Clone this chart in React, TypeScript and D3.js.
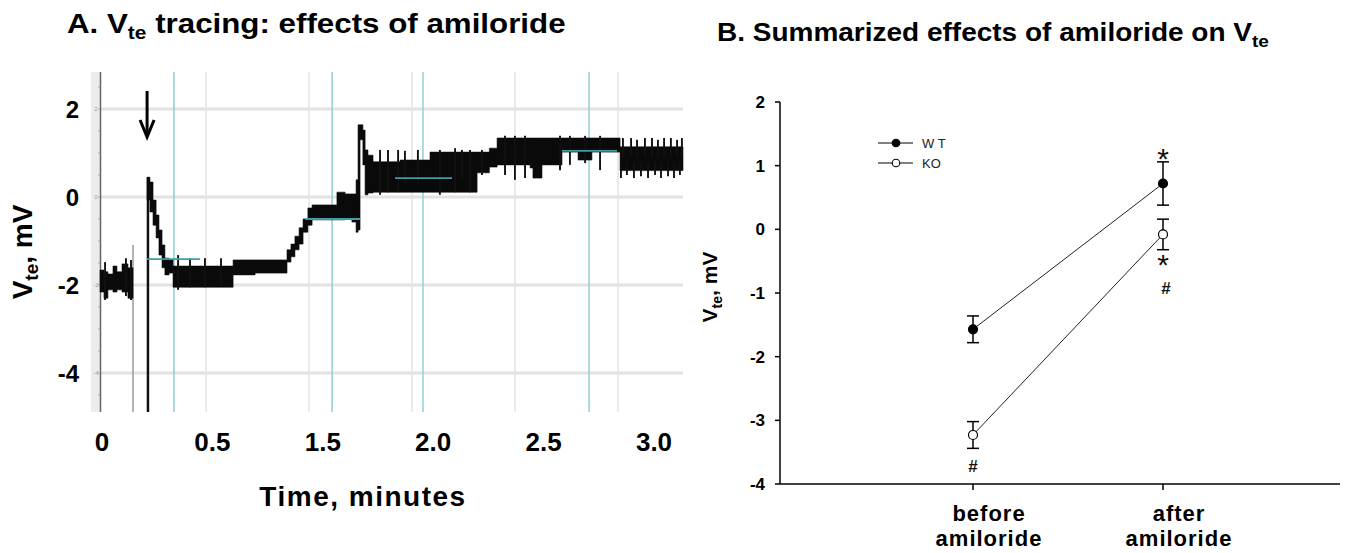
import React from "react";
import * as d3 from "d3";

// ---------- panel A: Vte tracing ----------
// time in minutes (trace time base), voltage in mV
const traceT = [
  0, 0.018, 0.036, 0.059, 0.077, 0.1, 0.127, 0.15, 0.18,
  0.214, 0.227, 0.241, 0.255, 0.268, 0.282, 0.295, 0.314, 0.332, 0.605, 0.705,
  0.85, 0.868, 0.886, 0.905, 0.923, 0.945, 0.964, 1.077, 1.114, 1.145, 1.164,
  1.173, 1.182, 1.195, 1.205, 1.218, 1.241, 1.364, 1.5, 1.714, 1.77, 1.805,
  1.955, 1.968, 2.009, 2.1, 2.173, 2.236, 2.364, 2.65,
];
const traceLo = [
  -2.16, -2.3, -2.11, -2.16, -2.11, -2.16, -2.3, -2.3, NaN,
  -0.07, -0.34, -0.64, -0.93, -1.32, -1.61, -1.77, -1.73, -2.05, -1.77, -1.73,
  -1.48, -1.36, -1.2, -1.07, -0.8, -0.64, -0.52, -0.52, -0.48, -0.57, -0.8,
  -0.75, 1.3, 0.73, 0.05, 0.09, 0.11, 0.11, 0.11, 0.55, 0.68, 0.73,
  0.66, 0.43, 0.73, 1.02, 0.84, 1.02, 0.6, 0.6,
];
const traceHi = [
  -1.66, -1.7, -1.75, -1.57, -1.7, -1.52, -1.61, -1.61, NaN,
  0.45, 0.34, -0.07, -0.41, -0.75, -1.09, -1.39, -1.43, -1.57, -1.43, -1.43,
  -1.2, -1.07, -0.89, -0.7, -0.5, -0.25, -0.18, 0.11, 0.07, 0.07, 0.39,
  1.64, 1.64, 1.52, 1.07, 0.95, 0.8, 0.84, 1.02, 1.02, 1.11, 1.34,
  1.34, 1.34, 1.34, 1.34, 1.34, 1.34, 1.14, 1.14,
];
// single noise excursions outside the dense band
const spikeT = [
  0.023, 0.118, 0.141, 0.355, 0.409, 0.477, 0.55, 1.273, 1.309, 1.355, 1.386,
  1.445, 1.545, 1.614, 1.645, 1.682, 1.736, 1.841, 1.886, 1.932, 2.091, 2.136,
  2.205, 2.273,
  2.377, 2.414, 2.441, 2.477, 2.509, 2.536, 2.564, 2.595, 2.623, 2.645,
  2.368, 2.395, 2.427, 2.459, 2.491, 2.523, 2.55, 2.582, 2.609, 2.636,
];
const spikeTop = [
  -1.48, -1.39, -1.43, -1.32, -1.39, -1.39, -1.39, 1.07, 1.07, 1.07, 1.05,
  1.07, 1.07, 1.11, 1.07, 1.07, 1.07, 1.39, 1.39, 1.39, 1.39, 1.39,
  1.39, 1.39,
  1.34, 1.34, 1.3, 1.34, 1.34, 1.3, 1.34, 1.34, 1.3, 1.34,
  0.8, 0.8, 0.8, 0.8, 0.8, 0.8, 0.8, 0.8, 0.8, 0.8,
];
const spikeBottom = [
  -2.34, -2.25, -2.34, -2.11, -2.05, -2.05, -2.02, 0.05, 0.11, 0.11, 0.3,
  0.3, 0.05, 0.11, 0.4, 0.11, 0.5, 0.5, 0.39, 0.43, 0.61, 0.73,
  0.77, 0.61,
  0.9, 0.9, 0.9, 0.9, 0.9, 0.9, 0.9, 0.9, 0.9, 0.9,
  0.43, 0.5, 0.43, 0.47, 0.43, 0.5, 0.43, 0.47, 0.43, 0.5,
];
// off-scale excursions (drawn down to the bottom of the panel)
const offScaleT = [0.15, 0.218];
const offScaleTop = [-1.09, 0.45];
// mean level markers
const meanT0 = [0.214, 0.932, 1.341, 2.1];
const meanT1 = [0.455, 1.182, 1.6, 2.35];
const meanV = [-1.41, -0.5, 0.43, 1.05];
const cursorT = [0.336, 1.055, 1.468, 2.223];
const gridT = [0.482, 0.95, 1.418, 1.886, 2.355];
const vTicksA = [2, 0, -2, -4];
const timeTickLabels = ["0", "0.5", "1.5", "2.0", "2.5", "3.0"];
const amilorideT = 0.214;

// ---------- panel B: summary ----------
const conditions = ["before", "after"];
const conditionLines = [
  ["before", "amiloride"],
  ["after", "amiloride"],
];
const wtMean = [-1.57, 0.72];
const wtSE = [0.21, 0.34];
const koMean = [-3.23, -0.08];
const koSE = [0.21, 0.24];
const vTicksB = [2, 1, 0, -1, -2, -3, -4];
const marks = [
  { cond: "after", v: 1.24, text: "*" },
  { cond: "after", v: -0.42, text: "*" },
  { cond: "after", v: -0.9, text: "#" },
  { cond: "before", v: -3.7, text: "#" },
];

const font = "Liberation Sans, Arial, Helvetica, sans-serif";

const tA = d3.scaleLinear().domain([0, 2.65]).range([100, 683]);
const vA = d3.scaleLinear().domain([-4, 2]).range([373, 109]);
const xLabA = d3.scalePoint().domain(timeTickLabels).range([102, 654]);
const plotTopA = 72;
const plotBottomA = 412;

const xB = d3.scalePoint().domain(conditions).range([973, 1163]);
const vB = d3.scaleLinear().domain([-4, 2]).range([484, 102]);
const axisLeftB = 780;
const axisRightB = 1340;

const band = d3
  .area<number>()
  .defined((i) => !isNaN(traceLo[i]))
  .x((i) => tA(traceT[i]))
  .y0((i) => vA(traceLo[i]))
  .y1((i) => vA(traceHi[i]))
  .curve(d3.curveStepAfter);

const seriesLine = d3
  .line<number>()
  .x((_, i) => xB(conditions[i]) as number)
  .y((d) => vB(d));

function PanelA() {
  const idx = traceT.map((_, i) => i);
  const ax = tA(amilorideT);
  return (
    <g>
      <rect x={91} y={plotTopA} width={9} height={plotBottomA - plotTopA} fill="#ececec" />
      {vTicksA.map((v) => (
        <line key={`hg${v}`} x1={100} x2={683} y1={vA(v)} y2={vA(v)} stroke="#e2e2e2" strokeWidth={3} />
      ))}
      {gridT.map((t) => (
        <line key={`vg${t}`} x1={tA(t)} x2={tA(t)} y1={plotTopA} y2={plotBottomA} stroke="#e4e4e4" strokeWidth={1.5} />
      ))}
      {cursorT.map((t) => (
        <line key={`cur${t}`} x1={tA(t)} x2={tA(t)} y1={plotTopA} y2={plotBottomA} stroke="#8fcfd2" strokeWidth={1.5} />
      ))}
      <line x1={100.5} x2={100.5} y1={plotTopA} y2={plotBottomA} stroke="#666" strokeWidth={1.5} />
      {d3.range(-4.5, 3, 0.5).map((v) => (
        <line key={`mt${v}`} x1={98} x2={100} y1={vA(v)} y2={vA(v)} stroke="#aaa" strokeWidth={1} />
      ))}
      {vTicksA.map((v) => (
        <text key={`tl${v}`} x={96} y={vA(v) + 2} fontSize={6} fill="#999" textAnchor="middle" fontFamily={font}>
          {v}
        </text>
      ))}
      {offScaleT.map((t, i) => (
        <line
          key={`os${t}`}
          x1={tA(t)}
          x2={tA(t)}
          y1={vA(offScaleTop[i])}
          y2={plotBottomA}
          stroke={i === 0 ? "#9a9a9a" : "#111"}
          strokeWidth={i === 0 ? 1.5 : 2.5}
        />
      ))}
      <path d={band(idx) ?? ""} fill="#0a0a0a" stroke="#0a0a0a" strokeWidth={0.6} />
      {spikeT.map((t, i) => (
        <line key={`sp${i}`} x1={tA(t)} x2={tA(t)} y1={vA(spikeTop[i])} y2={vA(spikeBottom[i])} stroke="#111" strokeWidth={1.9} />
      ))}
      {meanV.map((v, i) => (
        <line key={`mn${i}`} x1={tA(meanT0[i])} x2={tA(meanT1[i])} y1={vA(v)} y2={vA(v)} stroke="#3aa0a3" strokeWidth={1.8} />
      ))}
      {/* amiloride addition */}
      <line x1={ax} x2={ax} y1={91} y2={136} stroke="#000" strokeWidth={3} />
      <path d={`M${ax - 7},${120} L${ax},${137} L${ax + 7},${120}`} fill="none" stroke="#000" strokeWidth={3} />
      {vTicksA.map((v) => (
        <text key={`yl${v}`} x={79} y={vA(v) + 9} textAnchor="end" fontSize={24} fontWeight="bold" fontFamily={font}>
          {v}
        </text>
      ))}
      {timeTickLabels.map((l) => (
        <text key={`xl${l}`} x={xLabA(l)} y={451} textAnchor="middle" fontSize={26} fontWeight="bold" fontFamily={font}>
          {l}
        </text>
      ))}
      <text x={363} y={506} textAnchor="middle" fontSize={28} fontWeight="bold" letterSpacing={1.5} fontFamily={font}>
        Time, minutes
      </text>
      <text transform="translate(32,252) rotate(-90)" textAnchor="middle" fontSize={28} fontWeight="bold" fontFamily={font}>
        V<tspan fontSize={19} dy={6}>te</tspan>
        <tspan dy={-6}>, mV</tspan>
      </text>
      <g transform="translate(67,33) scale(1.16,1)">
        <text x={0} y={0} fontSize={27} fontWeight="bold" fontFamily={font}>
          A. V<tspan fontSize={18} dy={6}>te</tspan>
          <tspan dy={-6}> tracing: effects of amiloride</tspan>
        </text>
      </g>
    </g>
  );
}

function PanelB() {
  return (
    <g fontFamily={font}>
      <g transform="translate(717,41) scale(1.12,1)">
        <text x={0} y={0} fontSize={25} fontWeight="bold">
          B. Summarized effects of amiloride on V<tspan fontSize={17} dy={6}>te</tspan>
        </text>
      </g>
      <line x1={axisLeftB} x2={axisLeftB} y1={vB(2)} y2={vB(-4)} stroke="#000" strokeWidth={1.5} />
      <line x1={axisLeftB} x2={axisRightB} y1={vB(-4)} y2={vB(-4)} stroke="#000" strokeWidth={1.5} />
      {vTicksB.map((v) => (
        <g key={`bt${v}`}>
          <line x1={axisLeftB - 5} x2={axisLeftB} y1={vB(v)} y2={vB(v)} stroke="#000" strokeWidth={1.5} />
          <text x={765} y={vB(v) + 6} textAnchor="end" fontSize={17} fontWeight="bold">
            {v}
          </text>
        </g>
      ))}
      {conditions.map((c, i) => (
        <g key={`cx${c}`}>
          <line x1={xB(c)} x2={xB(c)} y1={vB(-4)} y2={vB(-4) + 6} stroke="#000" strokeWidth={1.5} />
          {conditionLines[i].map((s, j) => (
            <text
              key={s}
              x={(xB(c) as number) + 16}
              y={521 + j * 25}
              textAnchor="middle"
              fontSize={22}
              fontWeight="bold"
              letterSpacing={1}
            >
              {s}
            </text>
          ))}
        </g>
      ))}
      <text transform="translate(717,287) rotate(-90)" textAnchor="middle" fontSize={21} fontWeight="bold">
        V<tspan fontSize={14} dy={5}>te</tspan>
        <tspan dy={-5}>, mV</tspan>
      </text>
      {[
        { mean: wtMean, se: wtSE, fill: "#000" },
        { mean: koMean, se: koSE, fill: "#fff" },
      ].map((s, k) => (
        <g key={`ser${k}`}>
          <path d={seriesLine(s.mean) ?? ""} fill="none" stroke="#222" strokeWidth={1} />
          {s.mean.map((m, i) => {
            const cx = xB(conditions[i]) as number;
            const top = vB(m + s.se[i]);
            const bot = vB(m - s.se[i]);
            return (
              <g key={`pt${i}`}>
                <line x1={cx} x2={cx} y1={top} y2={bot} stroke="#000" strokeWidth={1.5} />
                <line x1={cx - 6} x2={cx + 6} y1={top} y2={top} stroke="#000" strokeWidth={1.5} />
                <line x1={cx - 6} x2={cx + 6} y1={bot} y2={bot} stroke="#000" strokeWidth={1.5} />
                <circle cx={cx} cy={vB(m)} r={4.5} fill={s.fill} stroke="#000" strokeWidth={1.2} />
              </g>
            );
          })}
        </g>
      ))}
      {marks.map((m, i) =>
        m.text === "*" ? (
          <text key={`mk${i}`} x={xB(m.cond)} y={vB(m.v) + 19} textAnchor="middle" fontSize={30} fill="#111">
            *
          </text>
        ) : (
          <text key={`mk${i}`} x={(xB(m.cond) as number) + (m.cond === "after" ? 3 : 0)} y={vB(m.v) + 7} textAnchor="middle" fontSize={17} fontWeight="bold" fill="#111">
            #
          </text>
        )
      )}
      {/* legend */}
      {[
        { label: "W T", fill: "#000", y: 143 },
        { label: "KO", fill: "#fff", y: 163 },
      ].map((l) => (
        <g key={l.label}>
          <line x1={878} x2={913} y1={l.y} y2={l.y} stroke="#000" strokeWidth={1.2} />
          <circle cx={896} cy={l.y} r={3.8} fill={l.fill} stroke="#000" strokeWidth={1.1} />
          <text x={922} y={l.y + 5} fontSize={13} fill="#222">
            {l.label}
          </text>
        </g>
      ))}
    </g>
  );
}

export default function App() {
  return (
    <svg
      width={1360}
      height={553}
      style={{ position: "absolute", left: 0, top: 0, background: "#fff" }}
    >
      <rect width={1360} height={553} fill="#fff" />
      <PanelA />
      <PanelB />
    </svg>
  );
}
